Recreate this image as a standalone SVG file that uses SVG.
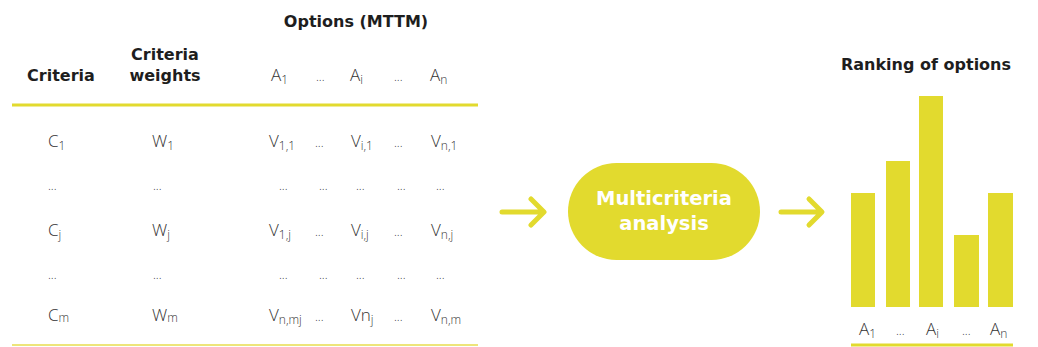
<svg xmlns="http://www.w3.org/2000/svg" width="1038" height="347" viewBox="0 0 1038 347">
<style>
.h{font-family:"DejaVu Sans","Liberation Sans",sans-serif;font-weight:700;font-size:16px;fill:#1e1e1e}
.t{font-family:"Open Sans","Liberation Sans",sans-serif;font-weight:300;font-size:17px;fill:#333333}
.d{font-family:"Open Sans","Liberation Sans",sans-serif;font-weight:300;font-size:12px;fill:#333333}
.s{font-size:12px}
.y{fill:#E2DA2E}
.ln{stroke:#E2DA2E;stroke-width:3}
.ar{fill:none;stroke:#E2DA2E;stroke-width:5;stroke-linecap:round;stroke-linejoin:round}
.w{font-family:"DejaVu Sans","Liberation Sans",sans-serif;font-weight:700;font-size:19.5px;fill:#ffffff}
</style>
<rect width="1038" height="347" fill="#ffffff"/>
<g id="table">
<text class="h" x="356" y="27" text-anchor="middle">Options (MTTM)</text>
<text class="h" x="61" y="81" text-anchor="middle">Criteria</text>
<text class="h" x="165" y="60" text-anchor="middle">Criteria</text>
<text class="h" x="165" y="81" text-anchor="middle">weights</text>
<text class="t" x="271" y="81">A<tspan class="s" dy="3">1</tspan></text>
<text class="d" x="316" y="81">...</text>
<text class="t" x="350" y="81">A<tspan class="s" dy="3">i</tspan></text>
<text class="d" x="394" y="81">...</text>
<text class="t" x="430" y="81">A<tspan class="s" dy="3">n</tspan></text>
<line class="ln" x1="12" y1="105" x2="478" y2="105"/>
<text class="t" x="48" y="147">C<tspan class="s" dy="3">1</tspan></text>
<text class="t" x="152" y="147">W<tspan class="s" dy="3">1</tspan></text>
<text class="t" x="269" y="147">V<tspan class="s" dy="3">1,1</tspan></text>
<text class="d" x="315" y="147">...</text>
<text class="t" x="351" y="147">V<tspan class="s" dy="3">i,1</tspan></text>
<text class="d" x="394" y="147">...</text>
<text class="t" x="431" y="147">V<tspan class="s" dy="3">n,1</tspan></text>
<text class="d" x="48" y="190">...</text>
<text class="d" x="153" y="190">...</text>
<text class="d" x="279" y="190">...</text>
<text class="d" x="319" y="190">...</text>
<text class="d" x="356" y="190">...</text>
<text class="d" x="397" y="190">...</text>
<text class="d" x="436" y="190">...</text>
<text class="t" x="48" y="236">C<tspan class="s" dy="3">j</tspan></text>
<text class="t" x="152" y="236">W<tspan class="s" dy="3">j</tspan></text>
<text class="t" x="269" y="236">V<tspan class="s" dy="3">1,j</tspan></text>
<text class="d" x="315" y="236">...</text>
<text class="t" x="351" y="236">V<tspan class="s" dy="3">i,j</tspan></text>
<text class="d" x="394" y="236">...</text>
<text class="t" x="431" y="236">V<tspan class="s" dy="3">n,j</tspan></text>
<text class="d" x="48" y="279">...</text>
<text class="d" x="153" y="279">...</text>
<text class="d" x="279" y="279">...</text>
<text class="d" x="319" y="279">...</text>
<text class="d" x="356" y="279">...</text>
<text class="d" x="397" y="279">...</text>
<text class="d" x="436" y="279">...</text>
<text class="t" x="48" y="321">C<tspan class="s" dy="1">m</tspan></text>
<text class="t" x="152" y="321">W<tspan class="s" dy="1">m</tspan></text>
<text class="t" x="269" y="321">V<tspan class="s" dy="3">n,mj</tspan></text>
<text class="d" x="315" y="321">...</text>
<text class="t" x="351" y="321">Vn<tspan class="s" dy="3">j</tspan></text>
<text class="d" x="394" y="321">...</text>
<text class="t" x="431" y="321">V<tspan class="s" dy="3">n,m</tspan></text>
<line x1="12" y1="345" x2="478" y2="345" stroke="#EDE57A" stroke-width="2"/>
</g>
<g id="analysis">
<rect class="y" x="568" y="163" width="192" height="97" rx="48.5"/>
<text class="w" x="664" y="205" text-anchor="middle">Multicriteria</text>
<text class="w" x="664" y="230" text-anchor="middle">analysis</text>
</g>
<g id="ranking">
<text class="h" x="926" y="70" text-anchor="middle">Ranking of options</text>
<rect class="y" x="851" y="193" width="24" height="114"/>
<rect class="y" x="886" y="161" width="24" height="146"/>
<rect class="y" x="919" y="96" width="24" height="211"/>
<rect class="y" x="954" y="235" width="25" height="72"/>
<rect class="y" x="988" y="193" width="25" height="114"/>
<text class="t" x="859" y="335">A<tspan class="s" dy="3">1</tspan></text>
<text class="d" x="896" y="335">...</text>
<text class="t" x="926" y="335">A<tspan class="s" dy="3">i</tspan></text>
<text class="d" x="962" y="335">...</text>
<text class="t" x="990" y="335">A<tspan class="s" dy="3">n</tspan></text>
<line class="ln" x1="851" y1="345" x2="1013" y2="345"/>
</g>
<g id="connectors">
<path class="ar" d="M502 212 H543 M531 199 L544 212 L531 225"/>
<path class="ar" d="M781 212 H821 M809 199 L822 212 L809 225"/>
</g>
</svg>
